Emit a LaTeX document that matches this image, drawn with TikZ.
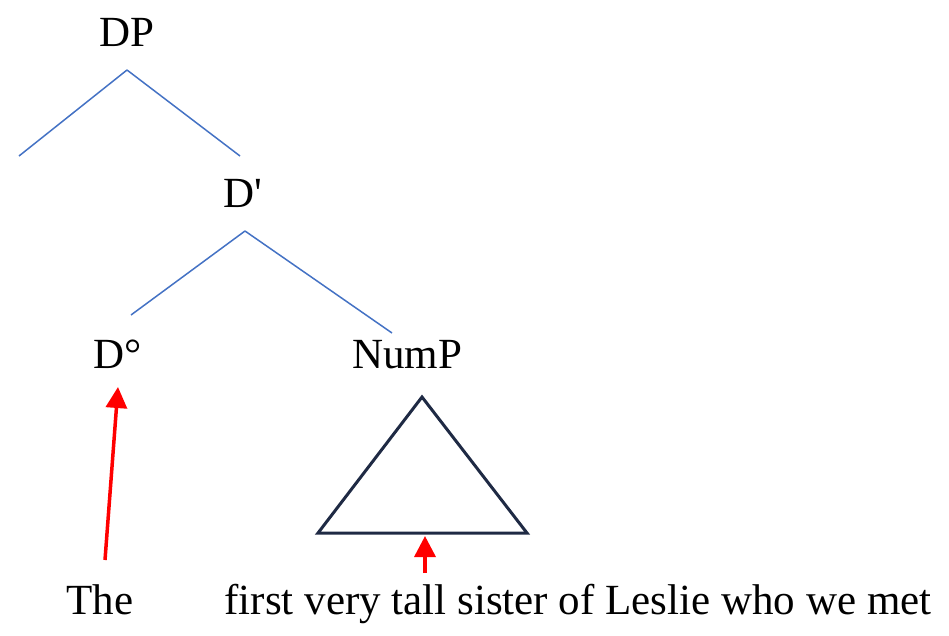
\documentclass[tikz,border=0pt]{standalone}
\usepackage{fontspec}
\setmainfont{Liberation Serif}
\usetikzlibrary{positioning,calc,arrows.meta}

\definecolor{branch}{HTML}{4472C4}
\definecolor{navy}{HTML}{1F2A44}

\tikzset{
  lbl/.style={anchor=base, inner sep=0pt, font=\fontsize{43}{50}\selectfont},
  branchline/.style={draw=branch, line width=1.5pt},
  pointer/.style={draw=red, line width=3.5pt, -{Triangle[width=21pt,length=21pt]}}
}

\begin{document}
\begin{tikzpicture}[x=1pt,y=-1pt]
    \useasboundingbox (0,0) rectangle (949,635);

    \node[lbl] (dp) at (127,46) {DP};
    \node[lbl] (dbar) at (243,207) {D\textquotesingle};
    \node[lbl] (dhead) at (118,368) {D°};
    \node[lbl] (nump) at (407,368) {NumP};
    \node[lbl] (the) at (100,614) {The};
    \node[lbl] (rest) at (578,614) {first very tall sister of Leslie who we met};

    % branch ends
    \coordinate (dptop) at (127,70);
    \coordinate (spec) at (19,156);
    \coordinate (dbarlow) at (240,156);
    \coordinate (dbartop) at (245,231);
    \coordinate (dheadlow) at (131,315);
    \coordinate (numplow) at (392,333);

    \path[branchline]
    (dptop) edge (spec)
    (dptop) edge (dbarlow)
    (dbartop) edge (dheadlow)
    (dbartop) edge (numplow);

    % triangle under NumP
    \coordinate (tritop) at (422,397);
    \coordinate (trileft) at (318,533);
    \coordinate (triright) at (527,533);
    \draw[navy, line width=3pt, line join=miter] (tritop) -- (trileft) -- (triright) -- cycle;

    % arrows
    \coordinate (thefoot) at (105,560);
    \coordinate (dheadfoot) at (118,387);
    \coordinate (restfoot) at (425,573);
    \coordinate (tribase) at (425,536);
    \draw[pointer] (thefoot) -- (dheadfoot);
    \draw[pointer] (restfoot) -- (tribase);
\end{tikzpicture}
\end{document}
